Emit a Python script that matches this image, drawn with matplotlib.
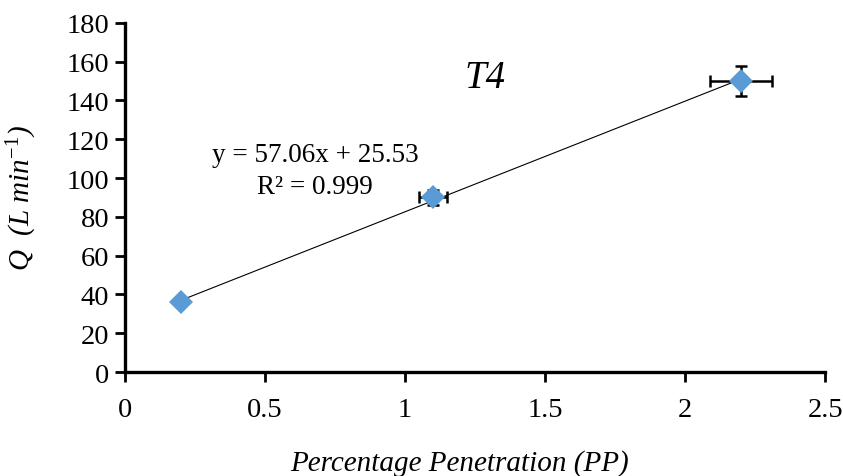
import matplotlib
matplotlib.use("Agg")
import matplotlib.pyplot as plt
import numpy as np

pp = [0.2, 1.1, 2.2]
q = [36, 90, 150]
pp_err = [0.0, 0.05, 0.11]
q_err = [0.0, 4.0, 7.5]
slope, intercept = 57.06, 25.53
xticks = [0, 0.5, 1, 1.5, 2, 2.5]
xticklabels = ["0", "0.5", "1", "1.5", "2", "2.5"]
yticks = list(range(0, 181, 20))

plt.rcParams['font.family'] = ['Liberation Serif', 'DejaVu Serif']
plt.rcParams['mathtext.fontset'] = 'custom'
plt.rcParams['mathtext.rm'] = 'Liberation Serif'
plt.rcParams['mathtext.it'] = 'Liberation Serif:italic'

fig = plt.figure(figsize=(8.43, 4.77), dpi=100)
ax = fig.add_axes([0.148, 0.218, 0.831, 0.732])

xf = np.array([pp[0], pp[-1]])
ax.plot(xf, slope * xf + intercept, color='black', lw=0.8, zorder=2)
ax.errorbar(pp, q, xerr=pp_err, yerr=q_err, fmt='none', ecolor='black',
            elinewidth=1.8, capsize=4, capthick=1.8, zorder=1)
ax.plot(pp, q, 'D', color='#5B9BD5', markersize=12, markeredgewidth=0, zorder=3)

ax.set_xlim(0, 2.5)
ax.set_ylim(0, 180)
ax.set_xticks(xticks)
ax.set_xticklabels(xticklabels)
ax.set_yticks(yticks)
for s in ['top', 'right']:
    ax.spines[s].set_visible(False)
for s in ['left', 'bottom']:
    ax.spines[s].set_linewidth(2.4)
ax.tick_params(axis='both', direction='out', length=7, width=2, labelsize=20.5)
ax.tick_params(axis='x', pad=11)
ax.tick_params(axis='y', pad=4)

ax.set_xlabel('Percentage Penetration (PP)', fontsize=21, style='italic', labelpad=18)
ax.xaxis.set_label_coords(0.478, -0.22)
ax.set_ylabel(r'Q  (L min$^{\mathit{-1}}$)', fontsize=21, style='italic', labelpad=20)

ax.text(1.286, 152, 'T4', fontsize=28, style='italic', ha='center', va='center')
ax.text(0.679, 104, 'y = 57.06x + 25.53\nR² = 0.999', fontsize=19.5, ha='center',
        va='center', linespacing=1.35)

fig.savefig('out.png', dpi=100)
